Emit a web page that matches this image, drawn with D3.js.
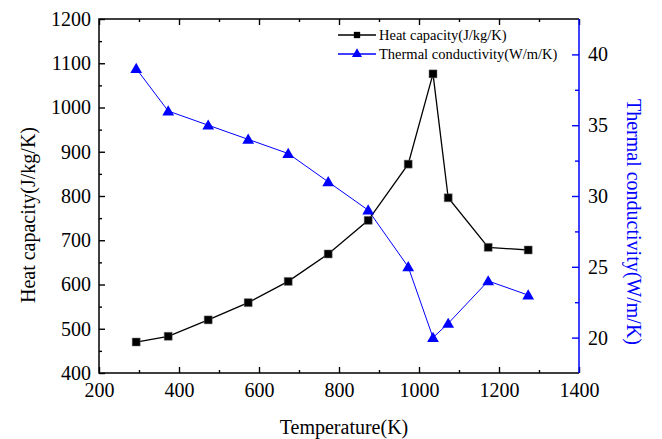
<!DOCTYPE html>
<html>
<head>
<meta charset="utf-8">
<script src="https://cdn.jsdelivr.net/npm/d3@7"></script>
<style>
  body { margin: 0; background: #fff; }
  svg text { font-family: "Liberation Serif", "Times New Roman", serif; }
</style>
</head>
<body>
<svg id="chart"></svg>
<script>
var temps   = [293, 373, 473, 573, 673, 773, 873, 973, 1035, 1073, 1173, 1273];
var heatCap = [470, 483, 520, 559, 607, 669, 745, 872, 1076, 796, 684, 678];
var thermC  = [39, 36, 35, 34, 33, 31, 29, 25, 20, 21, 24, 23];
var xTicks  = [200, 400, 600, 800, 1000, 1200, 1400];
var yTicks  = [400, 500, 600, 700, 800, 900, 1000, 1100, 1200];
var y2Ticks = [20, 25, 30, 35, 40];

var W = 662, H = 439;
var L = 99, R = 579, T = 19, B = 373;
var serif = "'Liberation Serif', 'Times New Roman', serif";

var svg = d3.select("#chart").attr("width", W).attr("height", H);

var x  = d3.scaleLinear().domain([200, 1400]).range([L, R]);
var y  = d3.scaleLinear().domain([400, 1200]).range([B, T]);
var y2 = d3.scaleLinear().domain([17.5, 42.5]).range([B, T]);

// minor ticks halfway between majors
function mids(a) {
  var m = [];
  for (var i = 0; i < a.length - 1; i++) m.push((a[i] + a[i + 1]) / 2);
  return m;
}

function styleAxis(g, col) {
  g.attr("font-family", serif);
  g.select(".domain").remove();
  g.selectAll("line").attr("stroke", col).attr("stroke-width", 1.4);
  g.selectAll("text").style("font-family", serif).attr("font-size", 20).attr("fill", "#000");
}

// bottom
svg.append("g").attr("transform", "translate(0," + B + ")")
  .call(d3.axisBottom(x).tickValues(xTicks).tickSize(-6).tickPadding(10).tickFormat(d3.format("d")))
  .call(styleAxis, "#000");
svg.append("g").attr("transform", "translate(0," + B + ")")
  .call(d3.axisBottom(x).tickValues(mids(xTicks)).tickSize(-3).tickFormat(""))
  .call(styleAxis, "#000");
// top
svg.append("g").attr("transform", "translate(0," + T + ")")
  .call(d3.axisTop(x).tickValues(xTicks).tickSize(-6).tickFormat(""))
  .call(styleAxis, "#000");
svg.append("g").attr("transform", "translate(0," + T + ")")
  .call(d3.axisTop(x).tickValues(mids(xTicks)).tickSize(-3).tickFormat(""))
  .call(styleAxis, "#000");
// left
svg.append("g").attr("transform", "translate(" + L + ",0)")
  .call(d3.axisLeft(y).tickValues(yTicks).tickSize(-6).tickPadding(8).tickFormat(d3.format("d")))
  .call(styleAxis, "#000");
svg.append("g").attr("transform", "translate(" + L + ",0)")
  .call(d3.axisLeft(y).tickValues(mids(yTicks)).tickSize(-3).tickFormat(""))
  .call(styleAxis, "#000");
// right
svg.append("g").attr("transform", "translate(" + R + ",0)")
  .call(d3.axisRight(y2).tickValues(y2Ticks).tickSize(-7).tickPadding(9).tickFormat(d3.format("d")))
  .call(styleAxis, "#0000ff");
svg.append("g").attr("transform", "translate(" + R + ",0)")
  .call(d3.axisRight(y2).tickValues(mids(y2Ticks)).tickSize(-4).tickFormat(""))
  .call(styleAxis, "#0000ff");

// frame lines
svg.append("path").attr("d", "M" + R + "," + T + "H" + L + "V" + B + "H" + R)
  .attr("fill", "none").attr("stroke", "#000").attr("stroke-width", 1.5);
svg.append("line").attr("x1", R).attr("x2", R).attr("y1", T).attr("y2", B)
  .attr("stroke", "#0000ff").attr("stroke-width", 1.5);

// series
var pts1 = temps.map(function(t, i) { return [x(t), y(heatCap[i])]; });
var pts2 = temps.map(function(t, i) { return [x(t), y2(thermC[i])]; });

svg.append("path").attr("d", d3.line()(pts2))
  .attr("fill", "none").attr("stroke", "#0000ff").attr("stroke-width", 1);
svg.append("path").attr("d", d3.line()(pts1))
  .attr("fill", "none").attr("stroke", "#000").attr("stroke-width", 1.3);

var sq = d3.symbol().type(d3.symbolSquare).size(64);
var tri = d3.symbol().type(d3.symbolTriangle).size(60);

svg.selectAll(".sq").data(pts1).enter().append("path")
  .attr("transform", function(d) { return "translate(" + d[0] + "," + d[1] + ")"; })
  .attr("d", sq).attr("fill", "#000").attr("stroke", "#777").attr("stroke-width", 0.5);
svg.selectAll(".tri").data(pts2).enter().append("path")
  .attr("transform", function(d) { return "translate(" + d[0] + "," + (d[1] + 1) + ")"; })
  .attr("d", tri).attr("fill", "#0000ff");

// legend
var leg = [
  { label: "Heat capacity(J/kg/K)", col: "#000", sym: d3.symbol().type(d3.symbolSquare).size(40), y: 35 },
  { label: "Thermal conductivity(W/m/K)", col: "#0000ff", sym: d3.symbol().type(d3.symbolTriangle).size(44), y: 54 }
];
leg.forEach(function(d) {
  svg.append("line").attr("x1", 338).attr("x2", 376).attr("y1", d.y).attr("y2", d.y)
    .attr("stroke", d.col).attr("stroke-width", 1.3);
  svg.append("path").attr("transform", "translate(357," + d.y + ")")
    .attr("d", d.sym).attr("fill", d.col);
  svg.append("text").attr("x", 379).attr("y", d.y + 5).attr("font-size", 14.5)
    .attr("fill", "#000").text(d.label);
});

// axis titles
svg.append("text").attr("x", 344).attr("y", 434).attr("text-anchor", "middle")
  .attr("font-size", 20).text("Temperature(K)");
svg.append("text").attr("transform", "translate(35,215) rotate(-90)")
  .attr("text-anchor", "middle").attr("font-size", 20).text("Heat capacity(J/kg/K)");
svg.append("text").attr("transform", "translate(627,222) rotate(90)")
  .attr("text-anchor", "middle").attr("font-size", 20).attr("fill", "#0000ff")
  .text("Thermal conductivity(W/m/K)");
</script>
</body>
</html>
